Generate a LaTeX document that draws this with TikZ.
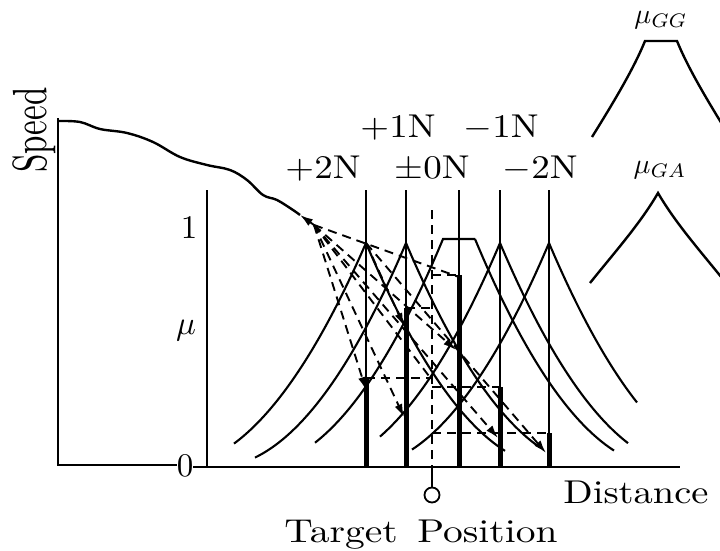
\documentclass[tikz,border=0pt]{standalone}
\usepackage{graphicx}
\usetikzlibrary{arrows.meta}
\begin{document}
\begin{tikzpicture}[x=1pt,y=-1pt,
  axisline/.style={line width=2.8pt},
  notch/.style={line width=1.6pt},
  mf/.style={line width=2.1pt},
  barline/.style={line width=5pt},
  dsh/.style={line width=1.9pt,dash pattern=on 9pt off 6pt},
  arr/.style={-{Latex[length=13pt,width=8pt]}},
  lbl/.style={inner sep=0pt},
]
\useasboundingbox (0,0) rectangle (720,551);

% ---- axes ----
\coordinate (sTop) at (58,118);
\coordinate (sOrg) at (58,465);
\node[lbl,anchor=base] (zero) at (185,476) {\scalebox{3.3}{0}};
\draw[axisline] (sTop) -- (sOrg) -- (zero.west |- sOrg);
\coordinate (mTop) at (207,190);
\coordinate (mOrg) at (207,467);
\coordinate (dEnd) at (680,467);
\draw[axisline] (zero.east |- mOrg) -- (dEnd);
\draw[notch] (mTop) -- (mOrg);

\node[lbl,anchor=base] (one) at (189,238) {\scalebox{3.3}{1}};
\node[lbl,anchor=base] (mu) at (186,334) {\scalebox{3.3}{$\mu$}};
\node[lbl,anchor=base,rotate=90] (speed) at (46,130) {\scalebox{3.3}[4.8]{Speed}};

% ---- notch labels ----
\node[lbl,anchor=base] (lp1) at (398,137) {\scalebox{3.7}[3.3]{$+$1N}};
\node[lbl,anchor=base] (lm1) at (501,137) {\scalebox{3.7}[3.3]{$-$1N}};
\node[lbl,anchor=base] (lp2) at (323,178) {\scalebox{3.7}[3.3]{$+$2N}};
\node[lbl,anchor=base] (lz)  at (432,178) {\scalebox{3.7}[3.3]{$\pm$0N}};
\node[lbl,anchor=base] (lm2) at (540,178) {\scalebox{3.7}[3.3]{$-$2N}};

\node[lbl,anchor=base] (dist) at (636,503) {\scalebox{3.85}[3.3]{Distance}};
\node[lbl,anchor=base] (tpos) at (421,542) {\scalebox{3.95}[3.3]{Target\, Position}};

% ---- notch lines ----
\coordinate (n2t) at (366,190); \coordinate (n2b) at (366,467);
\coordinate (n1t) at (406,190); \coordinate (n1b) at (406,467);
\coordinate (n0t) at (459,190); \coordinate (n0b) at (459,467);
\coordinate (m1t) at (500,190); \coordinate (m1b) at (500,467);
\coordinate (m2t) at (549,190); \coordinate (m2b) at (549,467);
\draw[notch] (n2t) -- (n2b);
\draw[notch] (n1t) -- (n1b);
\draw[notch] (n0t) -- (n0b);
\draw[notch] (m1t) -- (m1b);
\draw[notch] (m2t) -- (m2b);

% ---- membership curves ----
\draw[mf] plot[domain=234:366,samples=50] (\x,{467-224*(1-(366-\x)/195)^2});
\draw[mf] plot[domain=366:505,samples=50] (\x,{467-224*(1-(\x-366)/190)^2});
\draw[mf] plot[domain=255:406,samples=50] (\x,{467-224*(1-(406-\x)/190)^2});
\draw[mf] plot[domain=406:540,samples=50] (\x,{467-224*(1-(\x-406)/190)^2});
\draw[mf] plot[domain=315:443,samples=50] (\x,{467-228*(1-(443-\x)/190)^2})
  -- (475,239)
  plot[domain=475:614,samples=50] (\x,{467-228*(1-(\x-475)/190)^2});
\draw[mf] plot[domain=380:500,samples=50] (\x,{467-224*(1-(500-\x)/190)^2});
\draw[mf] plot[domain=500:628,samples=50] (\x,{467-224*(1-(\x-500)/190)^2});
\draw[mf] plot[domain=412:549,samples=50] (\x,{467-224*(1-(549-\x)/190)^2});
\draw[mf] plot[domain=549:637,samples=50] (\x,{467-224*(1-(\x-549)/190)^2});

% ---- target position ----
\coordinate (tTop) at (432,210);
\coordinate (tAx) at (432,467);
\node[draw,circle,minimum size=15pt,inner sep=0pt,line width=1.8pt] (tc) at (432,495) {};
\draw[dsh] (tTop) -- (tAx);
\draw[line width=1.8pt] (tAx) -- (tc.north);

% ---- bars ----
\coordinate (b2) at (366,378);
\coordinate (b1) at (406,308);
\coordinate (b0) at (459,275);
\coordinate (bm1) at (500,387);
\coordinate (bm2) at (549,433);
\draw[barline] (n2b) -- (b2);
\draw[barline] (n1b) -- (b1);
\draw[barline] (n0b) -- (b0);
\draw[barline] (m1b) -- (bm1);
\draw[barline] (m2b) -- (bm2);

% ---- dashed level lines to target ----
\draw[dsh] (b2) -- (b2 -| tTop);
\draw[dsh] (b1) -- (b1 -| tTop);
\draw[dsh] (b0 -| tTop) -- (b0);
\draw[dsh] (bm1 -| tTop) -- (bm1);
\draw[dsh] (bm2 -| tTop) -- (bm2);

% ---- speed curve ----
\coordinate (E) at (300,215);
\coordinate (O) at (314,225);
\draw[line width=2.4pt] plot[smooth,tension=0.6] coordinates {(58,121) (80,122) (100,129) (127,133) (153,142) (180,157) (207,165) (230,170) (247,180) (263,195) (277,200) (293,210) (E)};
\draw[line width=1.9pt,arr] (O) -- (E);

% ---- dashed prediction rays ----
\coordinate (P2) at (366,243);
\coordinate (C0) at (459,277);
\coordinate (H1) at (366,390);
\coordinate (H2) at (404,326);
\coordinate (H3) at (404,417);
\coordinate (H4) at (456,350);
\coordinate (H5) at (498,438);
\coordinate (H6) at (546,453);
\coordinate (X) at (432,380);
\draw[dsh] (O) -- (C0);
\draw[dsh,arr] (O) -- (H1);
\draw[dsh,arr] (O) -- (H3);
\draw[dsh,arr] (O) -- (H4);
\draw[dsh,arr] (O) -- (H5);
\draw[dsh] (O) -- (X);
\draw[dsh,arr] (P2) -- (H2);
\draw[dsh,arr] (P2) -- (H6);

% ---- inset membership shapes ----
\node[lbl] (mgg) at (661,20) {\scalebox{2.8}{$\mu_{GG}$}};
\node[lbl] (mga) at (660,170) {\scalebox{2.8}{$\mu_{GA}$}};
\draw[mf,line width=2.4pt] (592,137) .. controls (615,100) and (634,68) .. (645,41) -- (677,41)
  .. controls (688,68) and (707,100) .. (730,137);
\draw[mf,line width=2.4pt] (590,283) .. controls (614,253) and (640,224) .. (658,193)
  .. controls (676,224) and (702,253) .. (726,283);
\end{tikzpicture}
\end{document}
